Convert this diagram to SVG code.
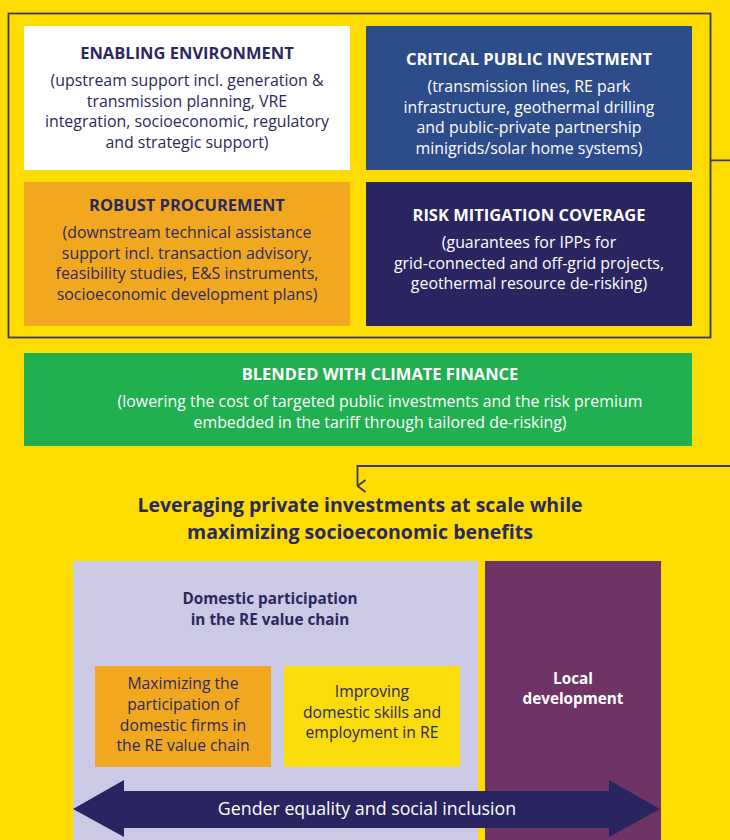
<svg xmlns="http://www.w3.org/2000/svg" width="730" height="840" viewBox="0 0 730 840">
  <defs>
    <style>
      text { font-family: "Open Sans", Lato, "Liberation Sans", sans-serif; text-anchor: middle; }
      .hd { font-weight: 700; font-size: 16.5px; }
      .bd { font-size: 15.9px; }
      .dk { fill: #2b2860; }
      .wt { fill: #ffffff; }
      .title { font-weight: 700; font-size: 19.5px; fill: #2b2860; }
      .sub { font-weight: 700; font-size: 15.3px; }
      .sm { font-size: 15.7px; }
      .link { fill: none; stroke: #3b3766; stroke-width: 1.8; }
    </style>
    <marker id="open-arrow" markerWidth="14" markerHeight="10" refX="7" refY="9" orient="auto-start-reverse" markerUnits="userSpaceOnUse" viewBox="0 0 14 10">
      <path d="M1,1 L7,9 L13,1" fill="none" stroke="#3b3766" stroke-width="1.8"/>
    </marker>
  </defs>

  <!-- page background -->
  <rect x="0" y="0" width="730" height="840" fill="#fddd00"/>

  <!-- frame around the four instrument boxes -->
  <rect id="frame" x="8.5" y="13.5" width="702" height="324" fill="none" stroke="#3b3766" stroke-width="1.8"/>

  <g id="enabling-environment">
    <rect x="24" y="26" width="326" height="144" fill="#ffffff"/>
    <text class="hd dk" x="187" y="59">ENABLING ENVIRONMENT</text>
    <text class="bd dk" x="187" y="86">(upstream support incl. generation &amp;</text>
    <text class="bd dk" x="187" y="106.5">transmission planning, VRE</text>
    <text class="bd dk" x="187" y="127">integration, socioeconomic, regulatory</text>
    <text class="bd dk" x="187" y="147.5">and strategic support)</text>
  </g>

  <g id="critical-public-investment">
    <rect x="366" y="26" width="326" height="144" fill="#2d4c8a"/>
    <text class="hd wt" x="529" y="65">CRITICAL PUBLIC INVESTMENT</text>
    <text class="bd wt" x="529" y="92">(transmission lines, RE park</text>
    <text class="bd wt" x="529" y="112.5">infrastructure, geothermal drilling</text>
    <text class="bd wt" x="529" y="133">and public-private partnership</text>
    <text class="bd wt" x="529" y="153.5">minigrids/solar home systems)</text>
  </g>

  <g id="robust-procurement">
    <rect x="24" y="182" width="326" height="144" fill="#f2a81e"/>
    <text class="hd dk" x="187" y="211">ROBUST PROCUREMENT</text>
    <text class="bd dk" x="187" y="238">(downstream technical assistance</text>
    <text class="bd dk" x="187" y="258.5">support incl. transaction advisory,</text>
    <text class="bd dk" x="187" y="279">feasibility studies, E&amp;S instruments,</text>
    <text class="bd dk" x="187" y="299.5">socioeconomic development plans)</text>
  </g>

  <g id="risk-mitigation-coverage">
    <rect x="366" y="182" width="326" height="144" fill="#2a2560"/>
    <text class="hd wt" x="529" y="221">RISK MITIGATION COVERAGE</text>
    <text class="bd wt" x="529" y="248">(guarantees for IPPs for</text>
    <text class="bd wt" x="529" y="268.5">grid-connected and off-grid projects,</text>
    <text class="bd wt" x="529" y="289">geothermal resource de-risking)</text>
  </g>

  <g id="blended-climate-finance">
    <rect x="24" y="353" width="668" height="93" fill="#21b050"/>
    <text class="hd wt" x="380" y="380">BLENDED WITH CLIMATE FINANCE</text>
    <text class="bd wt" x="380" y="407">(lowering the cost of targeted public investments and the risk premium</text>
    <text class="bd wt" x="380" y="428">embedded in the tariff through tailored de-risking)</text>
  </g>

  <!-- connector from the frame to the outcome heading -->
  <g id="connectors">
    <path class="link" d="M711,160.3 H745 V466 H357.5 V486" marker-end="url(#open-arrow)"/>
  </g>

  <g id="outcome-heading">
    <text class="title" x="360" y="511.5">Leveraging private investments at scale while</text>
    <text class="title" x="360" y="539">maximizing socioeconomic benefits</text>
  </g>

  <g id="domestic-participation">
    <rect x="73" y="561" width="405" height="279" fill="#ccc9e5"/>
    <text class="sub dk" x="270" y="604">Domestic participation</text>
    <text class="sub dk" x="270" y="625">in the RE value chain</text>
  </g>

  <g id="local-development">
    <rect x="485" y="561" width="176" height="279" fill="#6e3466"/>
    <text class="sub wt" x="573" y="684">Local</text>
    <text class="sub wt" x="573" y="704">development</text>
  </g>

  <g id="domestic-firms">
    <rect x="95" y="666" width="176" height="101" fill="#f2a81e"/>
    <text class="sm dk" x="183" y="689">Maximizing the</text>
    <text class="sm dk" x="183" y="710">participation of</text>
    <text class="sm dk" x="183" y="730.5">domestic firms in</text>
    <text class="sm dk" x="183" y="751">the RE value chain</text>
  </g>

  <g id="skills-employment">
    <rect x="284" y="666" width="176" height="101" fill="#f9dc0a"/>
    <text class="sm dk" x="372" y="697">Improving</text>
    <text class="sm dk" x="372" y="718">domestic skills and</text>
    <text class="sm dk" x="372" y="738">employment in RE</text>
  </g>

  <g id="gender-equality">
    <polygon points="73,809 124,780 124,791 609,791 609,780 660,809 609,837 609,828 124,828 124,837" fill="#2a2560"/>
    <text x="367" y="814.5" font-size="17.8px" fill="#ffffff">Gender equality and social inclusion</text>
  </g>
</svg>
